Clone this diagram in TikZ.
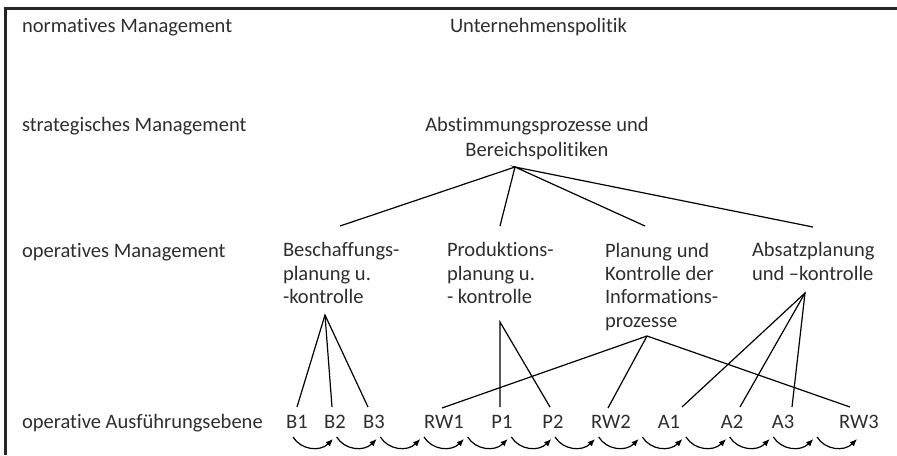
\documentclass[tikz,border=0pt]{standalone}
\usepackage{fontspec}
\setmainfont[Ligatures=NoCommon]{Carlito}
\usetikzlibrary{arrows.meta}
\begin{document}
\begin{tikzpicture}[x=0.75pt,y=-0.75pt,
  lbl/.style={inner sep=0pt, outer sep=0pt, text=black!82,
    font=\fontsize{15.4}{17.5}\selectfont},
  lbltwo/.style={lbl, font=\fontsize{15.4}{18.75}\selectfont},
  frame/.style={line width=1.9pt, draw=black!85, line join=miter},
  conn/.style={line width=0.9pt, draw=black},
  flow/.style={line width=0.9pt, draw=black, -{Latex[length=5.5pt,width=4.5pt]}}]
\useasboundingbox (0,0) rectangle (897,455);
% frame
\draw[frame] (897,8.5) -- (5.5,8.5) -- (5.5,455);
% row labels
\node[lbl, anchor=base west] (norm) at (22,32) {normatives Management};
\node[lbl, anchor=base west] (strat) at (22,131) {strategisches Management};
\node[lbl, anchor=base west] (oper) at (22,257) {operatives Management};
\node[lbl, anchor=base west] (ausf) at (22,428) {operative Ausführungsebene};
% content (base anchor of a multi-line node = baseline of its last line)
\node[lbl, anchor=base west] (unt) at (450,32) {Unternehmenspolitik};
\node[lbltwo, anchor=base, align=center] (abst) at (537,156) {Abstimmungsprozesse und\\Bereichspolitiken};
\node[lbl, anchor=base west, align=left] (besch) at (283,303.6) {Beschaffungs-\\planung u.\\-kontrolle};
\node[lbl, anchor=base west, align=left] (prod) at (447,303.6) {Produktions-\\planung u.\\- kontrolle};
\node[lbl, anchor=base west, align=left] (plan) at (605,327) {Planung und\\Kontrolle der\\Informations-\\prozesse};
\node[lbl, anchor=base west, align=left] (absatz) at (752,280.3) {Absatzplanung\\und –kontrolle};
% execution level
\foreach \n/\x in {B1/297,B2/335,B3/374,RW1/444,P1/502,P2/553,RW2/611,A1/669,A2/732,A3/783,RW3/859}
  \node[lbl, anchor=base] (\n) at (\x,428) {\n};
% connection points
\coordinate (abstA) at (515,167);
\coordinate (beschT) at (340,226);
\coordinate (prodT) at (500,226);
\coordinate (planT) at (645,226);
\coordinate (absT) at (813,227);
\coordinate (beschA) at (325,315);
\coordinate (prodA) at (500,322);
\coordinate (planA) at (647,336);
\coordinate (absA) at (805,293);
\coordinate (B1e) at (297,407);
\coordinate (B2e) at (332,407);
\coordinate (B3e) at (368,407);
\coordinate (P1e) at (500,407);
\coordinate (P2e) at (550,407);
\coordinate (RW1e) at (442,408);
\coordinate (RW2e) at (608,408);
\coordinate (RW3e) at (850,407);
\coordinate (A1e) at (682,407);
\coordinate (A2e) at (740,407);
\coordinate (A3e) at (792,407);
% connectors
\draw[conn] (beschT) -- (abstA) -- (prodT);
\draw[conn] (planT) -- (abstA) -- (absT);
\draw[conn] (B1e) -- (beschA) -- (B3e);
\draw[conn] (beschA) -- (B2e);
\draw[conn] (P1e) -- (prodA) -- (P2e);
\draw[conn] (RW1e) -- (planA) -- (RW3e);
\draw[conn] (planA) -- (RW2e);
\draw[conn] (A1e) -- (absA) -- (A3e);
\draw[conn] (absA) -- (A2e);
% flow arcs
\foreach \k in {0,...,12}{
  \pgfmathsetmacro\xs{293+43.67*\k}
  \coordinate (s\k) at (\xs,437);
  \coordinate (e\k) at (\xs+40,439);
  \draw[flow] (s\k) .. controls (\xs+8,450) and (\xs+27,452) .. (e\k);
}
\end{tikzpicture}
\end{document}
